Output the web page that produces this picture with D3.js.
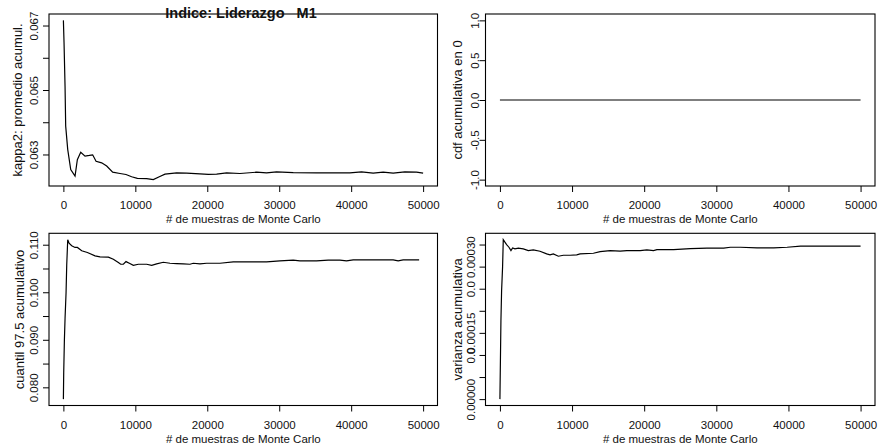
<!DOCTYPE html>
<html lang="es">
<head>
<meta charset="UTF-8">
<title>Indice: Liderazgo M1</title>
<script src="https://d3js.org/d3.v7.min.js"></script>
<style>
    body { margin: 0; background: #fff; }
    text { font-family: "Liberation Sans", Arial, sans-serif; fill: #111; }
    .tick text { font-size: 11.5px; }
    .ylab { font-size: 13px; }
    .xlab { font-size: 11.5px; }
    .main { font-size: 14.5px; font-weight: bold; white-space: pre; }
    .serie { fill: none; stroke: #000; stroke-width: 1.2px; }
    .marco { fill: none; stroke: #000; stroke-width: 1.1px; }
    .tick line { stroke: #000; stroke-width: 1px; }
</style>
</head>
<body>
<div id="chart"></div>
<script>
// ---- datos ----
const xTicks = [0, 10000, 20000, 30000, 40000, 50000];

// kappa2: promedio acumulado
const kappaN = [0, 90, 230, 320, 600, 1020, 1620, 1940, 2410, 3010, 3610, 4070, 4540, 5320, 6020,
    6850, 7870, 8700, 9490, 10280, 11570, 12500, 13330, 14120, 15740, 17130, 18980, 20140, 21300, 22690,
    24540, 26850, 28240, 29630, 31950, 35190, 37500, 39820, 41440, 43060, 44450, 45840, 47460, 49080, 50000];
const kappaMean = [0.06716, 0.06647, 0.06512, 0.06388, 0.06316, 0.06253, 0.06233, 0.06284, 0.06307, 0.06295,
    0.06297, 0.06299, 0.06279, 0.06274, 0.06264, 0.06245, 0.06241, 0.06238, 0.06231, 0.06226,
    0.06225, 0.06222, 0.06231, 0.06239, 0.06243, 0.06242, 0.0624, 0.06238, 0.06239, 0.06243,
    0.06241, 0.06245, 0.06243, 0.06246, 0.06244, 0.06243, 0.06243, 0.06243, 0.06246, 0.06242,
    0.06245, 0.06242, 0.06246, 0.06245, 0.06242];
const kappaTicks = [0.063, 0.064, 0.065, 0.066, 0.067];
const kappaLabels = ["0.063", "", "0.065", "", "0.067"];

// cdf acumulativa en 0
const cdfN = [0, 50000];
const cdfAt0 = [0, 0];
const cdfTicks = [-1, -0.5, 0, 0.5, 1];
const cdfLabels = ["-1.0", "-0.5", "0.0", "0.5", "1.0"];

// cuantil 97.5 acumulativo
const quantN = [0, 46, 139, 232, 370, 463, 602, 787, 1158, 1620, 1945, 2547, 3334, 4399, 5093, 6251,
    6945, 7640, 7964, 8334, 8704, 9167, 9723, 10418, 11575, 12270, 12964, 13890, 14816, 15742, 16668,
    17594, 18057, 18983, 19909, 21761, 23613, 25928, 28243, 30095, 31947, 32873, 35188, 36809, 38429,
    39355, 40281, 42133, 45837, 46532, 47226, 49448];
const quant975 = [0.07752, 0.08319, 0.08993, 0.09454, 0.09986, 0.10567, 0.11106, 0.11035, 0.10979, 0.10943,
    0.10943, 0.10872, 0.10837, 0.10766, 0.10745, 0.10738, 0.10695, 0.10624, 0.10589, 0.10589,
    0.10645, 0.1061, 0.10567, 0.10589, 0.10589, 0.10567, 0.10596, 0.10631, 0.1061, 0.10603,
    0.10596, 0.10589, 0.1061, 0.10596, 0.1061, 0.1061, 0.10638, 0.10638, 0.10638, 0.1066,
    0.10674, 0.1066, 0.1066, 0.10674, 0.10674, 0.1066, 0.10681, 0.10681, 0.10681, 0.1066,
    0.10681, 0.10681];
const quantTicks = [0.080, 0.085, 0.090, 0.095, 0.100, 0.105, 0.110];
const quantLabels = ["0.080", "", "0.090", "", "0.100", "", "0.110"];

// varianza acumulativa
const varN = [0, 46, 139, 232, 370, 463, 695, 926, 1250, 1528, 1759, 2084, 2547, 3241, 3936, 4630,
    5556, 6482, 6945, 7408, 8103, 8797, 9723, 10649, 11112, 12964, 13890, 15279, 16668, 17594, 19446,
    20372, 21298, 21761, 24076, 26391, 28706, 31021, 31947, 33336, 35651, 37966, 39818, 41670, 43522,
    47226, 50000];
const varCum = [0.0000000, 0.0000599, 0.0001773, 0.0002455, 0.0003, 0.000361, 0.0003553, 0.00035, 0.0003439,
    0.0003364, 0.0003424, 0.0003402, 0.0003417, 0.0003402, 0.0003364, 0.0003379, 0.0003349, 0.0003288,
    0.0003265, 0.0003288, 0.0003235, 0.0003258, 0.0003258, 0.0003265, 0.0003288, 0.0003303, 0.0003341,
    0.0003364, 0.0003349, 0.0003364, 0.0003364, 0.0003379, 0.0003364, 0.0003386, 0.0003386, 0.0003409,
    0.0003417, 0.0003417, 0.0003439, 0.0003439, 0.0003424, 0.0003424, 0.0003439, 0.0003462, 0.0003462,
    0.0003462, 0.0003462];
const varTicks = [0, 0.00005, 0.0001, 0.00015, 0.0002, 0.00025, 0.0003, 0.00035];
const varLabels = ["0.00000", "", "0.0", "0.00015", "", "0.0", "0.00030", ""];

const mainTitle = "Indice: Liderazgo   M1";
const xTitle = "# de muestras de Monte Carlo";

// ---- dibujo ----
const W = 881, H = 448;
const svg = d3.select("#chart").append("svg").attr("width", W).attr("height", H);

// rango como en R: extiende 4% por lado
function rRange(lo, hi) {
    if (lo === hi) { lo -= 1; hi += 1; }
    const d = (hi - lo) * 0.04;
    return [lo - d, hi + d];
}

const panels = [
    { box: [49, 14, 437.5, 186], n: kappaN, v: kappaMean, ticks: kappaTicks, labels: kappaLabels,
      ytitle: "kappa2: promedio acumul.", labOff: 15, titOff: 31.5 },
    { box: [485.5, 14, 875, 186], n: cdfN, v: cdfAt0, ticks: cdfTicks, labels: cdfLabels,
      ytitle: "cdf acumulativa en 0", labOff: 11, titOff: 28 },
    { box: [49, 233.3, 437.5, 405.5], n: quantN, v: quant975, ticks: quantTicks, labels: quantLabels,
      ytitle: "cuantil 97.5 acumulativo", labOff: 15, titOff: 30 },
    { box: [485.5, 233.3, 875, 405.5], n: varN, v: varCum, ticks: varTicks, labels: varLabels,
      ytitle: "varianza acumulativa", labOff: 15, titOff: 28, shift: { 6: -10 } }
];

panels.forEach(function(p) {
    const [x0, y0, x1, y1] = p.box;
    const x = d3.scaleLinear().domain(rRange(0, 50000)).range([x0, x1]);
    const y = d3.scaleLinear().domain(rRange(d3.min(p.v), d3.max(p.v))).range([y1, y0]);

    const line = d3.line()
        .x(function(d, i) { return x(p.n[i]); })
        .y(function(d) { return y(d); });

    svg.append("path").datum(p.v).attr("class", "serie").attr("d", line);

    // eje x
    const gx = svg.append("g")
        .attr("transform", "translate(0," + y1 + ")")
        .call(d3.axisBottom(x).tickValues(xTicks).tickSize(6).tickSizeOuter(0).tickFormat(d3.format("d")));
    gx.select(".domain").remove();
    gx.selectAll(".tick text").attr("y", 23).attr("dy", 0);

    // eje y, etiquetas giradas como en R
    const gy = svg.append("g")
        .attr("transform", "translate(" + x0 + ",0)")
        .call(d3.axisLeft(y).tickValues(p.ticks).tickSize(6).tickSizeOuter(0)
            .tickFormat(function(d, i) { return p.labels[i]; }));
    gy.select(".domain").remove();
    gy.selectAll(".tick text")
        .attr("x", 0).attr("y", 0).attr("dy", "0.35em")
        .attr("text-anchor", "middle")
        .attr("transform", function(d, i) {
            const s = (p.shift && p.shift[i]) || 0;
            return "translate(" + (-p.labOff) + "," + s + ") rotate(-90)";
        });

    svg.append("rect").attr("class", "marco")
        .attr("x", x0).attr("y", y0).attr("width", x1 - x0).attr("height", y1 - y0);

    svg.append("text").attr("class", "xlab")
        .attr("x", (x0 + x1) / 2).attr("y", y1 + 37)
        .attr("text-anchor", "middle").text(xTitle);

    svg.append("text").attr("class", "ylab")
        .attr("text-anchor", "middle").attr("dy", "0.35em")
        .attr("transform", "translate(" + (x0 - p.titOff) + "," + ((y0 + y1) / 2) + ") rotate(-90)")
        .text(p.ytitle);
});

// titulo principal (encima del primer panel)
svg.append("text").attr("class", "main")
    .attr("x", 241).attr("y", 18)
    .attr("text-anchor", "middle")
    .text(mainTitle);
</script>
</body>
</html>
